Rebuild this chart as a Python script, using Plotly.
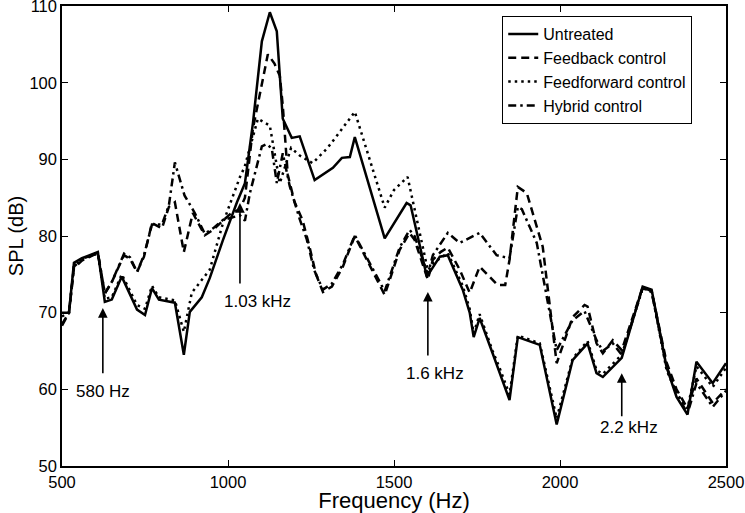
import plotly.graph_objects as go

# ---------------- data ----------------
untreated_f = [500, 521, 536, 560, 608, 629, 650, 680, 726, 750, 771, 792, 840, 867, 885, 921, 945,
               985, 1027, 1051, 1075, 1087, 1102, 1126, 1147, 1165, 1192, 1216, 1261, 1316, 1343,
               1367, 1382, 1472, 1538, 1550, 1599, 1638, 1662, 1707, 1728, 1740, 1758, 1797, 1818,
               1848, 1873, 1900, 1939, 1990, 2038, 2083, 2110, 2129, 2186, 2249, 2276, 2321, 2351,
               2384, 2411, 2460, 2500]
untreated_v = [70, 70, 76.5, 77.1, 77.9, 71.4, 71.7, 74.7, 70.4, 69.7, 73.2, 71.7, 71.3, 64.5, 70.1, 72, 74.5,
               79.5, 84.4, 86.9, 94.7, 99.2, 105.4, 109.2, 106.7, 95.3, 92.8, 93, 87.3, 88.9, 90.2,
               90.3, 92.9, 79.7, 84.3, 84, 74.7, 77.3, 77.5, 73, 70, 66.8, 69.3, 64.7, 62.3,
               58.6, 66.8, 66.4, 65.8, 55.4, 63.8, 66, 62.1, 61.6, 64.1, 73.4, 73, 62.9, 59,
               56.7, 63.6, 60.8, 63.4]

feedback_f = [500, 521, 536, 560, 608, 629, 650, 687, 705, 726, 747, 771, 801, 822, 840, 867, 894, 930,
              955, 985, 1010, 1036, 1051, 1075, 1096, 1120, 1140, 1156, 1165, 1180, 1200, 1225, 1246,
              1265, 1286, 1313, 1346, 1382, 1472, 1517, 1547, 1562, 1602, 1617, 1640, 1662, 1698,
              1728, 1758, 1812, 1835, 1848, 1873, 1900, 1948, 1990, 2038, 2074, 2083, 2110, 2129,
              2159, 2186, 2249, 2276, 2321, 2351, 2384, 2411, 2460, 2500]
feedback_v = [68.3, 70, 75.8, 76.8, 77.8, 72.5, 74, 77.5, 77, 75.3, 77.3, 81.7, 81, 83.8, 84.4, 77.9, 83, 80.1,
              80.8, 82, 83, 83.5, 85, 94, 98.7, 103.7, 102.5, 100.9, 97, 88, 84.5, 82, 78.5,
              75, 72.7, 73.4, 76, 80, 72.3, 78.2, 80.4, 79.5, 74.3, 76.9, 77.9, 78.5, 75.6,
              72.6, 76, 73.6, 73.6, 76.9, 86.4, 85.6, 78.6, 63.4, 69.4, 71, 70.8, 66, 64.7,
              66.4, 65.1, 73.3, 72.8, 63.5, 60, 57.5, 61.4, 58.2, 60]

feedforward_f = [500, 521, 536, 560, 608, 629, 650, 680, 726, 750, 771, 792, 840, 867, 891, 921, 945,
                 985, 1036, 1050, 1090, 1126, 1141, 1156, 1190, 1216, 1255, 1300, 1337, 1382, 1472,
                 1500, 1541, 1587, 1602, 1620, 1662, 1707, 1728, 1740, 1758, 1797, 1818, 1848, 1873,
                 1900, 1939, 1990, 2038, 2083, 2110, 2129, 2186, 2249, 2276, 2321, 2351, 2384, 2411,
                 2460, 2500]
feedforward_v = [69.5, 70, 76, 77, 77.7, 71.8, 72, 75, 71, 70.5, 73.5, 72, 71.6, 67.5, 72.6, 74.3, 75.6,
                 81.7, 87.7, 89, 95.3, 94.4, 90.8, 86.9, 91.5, 90.5, 89.5, 91.5, 93.6, 96.2, 83.7,
                 86, 87.7, 78.6, 75.5, 76.5, 77.8, 73.5, 70.5, 67.3, 69.8, 65, 62.8, 59.3, 67,
                 66.6, 66, 56.2, 64, 66.3, 62.5, 62, 64.5, 73.2, 72.8, 62.5, 59.5, 57.5, 63,
                 60.3, 62.8]

hybrid_f = [500, 521, 536, 560, 608, 629, 650, 687, 705, 726, 747, 771, 801, 822, 840, 869, 900, 930,
            955, 985, 1036, 1051, 1066, 1102, 1117, 1132, 1147, 1165, 1186, 1216, 1237, 1260, 1286,
            1313, 1346, 1382, 1472, 1517, 1547, 1562, 1602, 1617, 1662, 1698, 1758, 1809, 1848,
            1873, 1885, 1930, 1990, 2038, 2074, 2110, 2129, 2159, 2186, 2249, 2276, 2321, 2351,
            2384, 2411, 2460, 2500]
hybrid_v = [68.5, 70, 76, 77, 77.8, 72.5, 74, 77.7, 77.2, 75.3, 77.5, 81.5, 81.5, 84, 89.6, 85.3, 83, 80.3,
            81, 82.1, 82.7, 82, 85.6, 91.7, 92, 91.4, 86.9, 90.8, 86.5, 82.2, 79.6, 75.5, 73,
            73.8, 76.3, 80.1, 72.8, 78.5, 80.8, 80, 75, 77.5, 80.4, 79.1, 80.4, 77.5, 77.1,
            83.8, 83.5, 79.1, 65.1, 69, 70.2, 66.4, 65, 66, 64.5, 73.2, 72.7, 63, 59.5,
            56.8, 60.8, 57.7, 59.8]

x_ticks = [500, 1000, 1500, 2000, 2500]
y_ticks = [50, 60, 70, 80, 90, 100, 110]

# annotations: (label, arrow x, arrow tip y, arrow tail y, label x, label y)
notes = [
    ("580 Hz", 623, 70.6, 61.9, 623, 59.7),
    ("1.03 kHz", 1036, 84.3, 73.6, 1090, 71.4),
    ("1.6 kHz", 1602, 72.7, 64.2, 1623, 62.1),
    ("2.2 kHz", 2186, 62.1, 56.3, 2207, 55.0),
]

# ---------------- figure ----------------
FONT = "Liberation Sans, Arial, sans-serif"
fig = go.Figure()
series = [
    ("Untreated", untreated_f, untreated_v, "solid"),
    ("Feedback control", feedback_f, feedback_v, "8px,5px"),
    ("Feedforward control", feedforward_f, feedforward_v, "2.5px,4px"),
    ("Hybrid control", hybrid_f, hybrid_v, "8px,4px,2.5px,4px"),
]
for name, f, v, dash in series:
    fig.add_trace(go.Scatter(x=f, y=v, mode="lines", name=name,
                             line=dict(color="black", width=2.5, dash=dash)))

for label, ax_, tip, tail, lx, ly in notes:
    fig.add_annotation(x=ax_, y=tip, ax=ax_, ay=tail, xref="x", yref="y",
                       axref="x", ayref="y", text="", showarrow=True,
                       arrowhead=2, arrowsize=1.2, arrowwidth=1.6, arrowcolor="black")
    fig.add_annotation(x=lx, y=ly, xref="x", yref="y", text=label, showarrow=False,
                       font=dict(family=FONT, size=17, color="black"))

fig.update_layout(
    width=745, height=513,
    margin=dict(l=62, r=19, t=6, b=47, autoexpand=False),
    paper_bgcolor="white", plot_bgcolor="white",
    font=dict(family=FONT, size=17, color="black"),
    showlegend=True,
    legend=dict(x=0.663, y=0.978, xanchor="left", yanchor="top",
                bgcolor="white", bordercolor="black", borderwidth=1,
                font=dict(family=FONT, size=16, color="black"),
                tracegroupgap=0, itemwidth=30),
)
fig.update_xaxes(range=[500, 2500.01], tickvals=x_ticks, ticks="inside", ticklen=6,
                 tickcolor="black", showline=True, linecolor="black", linewidth=1.5,
                 mirror="ticks", showgrid=False, zeroline=False, automargin=False,
                 tickfont=dict(size=16.5), ticklabeloverflow="allow",
                 title=dict(text="Frequency (Hz)", font=dict(size=22), standoff=8))
fig.update_yaxes(range=[49.99, 110.01], tickvals=y_ticks, ticks="inside", ticklen=6,
                 tickcolor="black", showline=True, linecolor="black", linewidth=1.5,
                 mirror="ticks", showgrid=False, zeroline=False, automargin=False,
                 tickfont=dict(size=16.5), ticklabeloverflow="allow",
                 title=dict(text="SPL (dB)", font=dict(size=20), standoff=0))

fig.write_html("out.html", config={"displayModeBar": False},
               post_script="document.body.style.margin='0';document.body.style.padding='0';")
